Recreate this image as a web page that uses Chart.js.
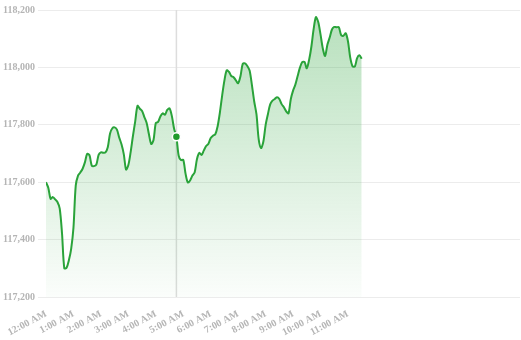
<html>
  <body style="margin:0;background:#fff">
    <canvas id="myChart" width="521" height="340"></canvas>

    <script src="https://cdn.jsdelivr.net/npm/chart.js"></script>
    <script>
      "use strict";

      // minutes after midnight, one reading every 5 minutes
      const minutes = [
          0, 5, 10, 15, 20, 25, 30, 35, 40, 45, 50, 55,
          60, 65, 70, 75, 80, 85, 90, 95, 100, 105, 110, 115,
          120, 125, 130, 135, 140, 145, 150, 155, 160, 165, 170, 175,
          180, 185, 190, 195, 200, 205, 210, 215, 220, 225, 230, 235,
          240, 245, 250, 255, 260, 265, 270, 275, 280, 285, 290, 295,
          300, 305, 310, 315, 320, 325, 330, 335, 340, 345, 350, 355,
          360, 365, 370, 375, 380, 385, 390, 395, 400, 405, 410, 415,
          420, 425, 430, 435, 440, 445, 450, 455, 460, 465, 470, 475,
          480, 485, 490, 495, 500, 505, 510, 515, 520, 525, 530, 535,
          540, 545, 550, 555, 560, 565, 570, 575, 580, 585, 590, 595,
          600, 605, 610, 615, 620, 625, 630, 635, 640, 645, 650, 655,
          660, 665, 670, 675, 680, 685, 690
      ];

      const prices = [
          117600, 117581, 117542, 117548, 117540, 117531, 117508, 117422, 117300, 117302, 117328, 117368,
          117441, 117588, 117623, 117634, 117647, 117669, 117699, 117694, 117658, 117656, 117661, 117695,
          117704, 117703, 117704, 117722, 117770, 117788, 117791, 117783, 117756, 117732, 117698, 117644,
          117660, 117705, 117761, 117812, 117866, 117856, 117848, 117827, 117806, 117767, 117733, 117747,
          117806, 117810, 117829, 117840, 117835, 117852, 117857, 117831, 117786, 117758, 117692, 117677,
          117678, 117630, 117599, 117606, 117623, 117635, 117681, 117702, 117695, 117711, 117726, 117734,
          117754, 117762, 117767, 117794, 117842, 117902, 117955, 117990, 117984, 117970, 117966, 117955,
          117945, 117969, 118012, 118014, 118005, 117989, 117939, 117882, 117837, 117748, 117719, 117741,
          117799, 117837, 117871, 117884, 117890, 117896, 117890, 117872, 117861, 117847, 117840, 117889,
          117919, 117940, 117970, 117999, 118018, 118019, 117997, 118026, 118072, 118134, 118175, 118158,
          118115, 118066, 118040, 118079, 118104, 118132, 118141, 118140, 118140, 118113, 118110, 118119,
          118091, 118034, 118004, 118003, 118032, 118042, 118030
      ];

      const hourLabels = [
          '12:00 AM', '1:00 AM', '2:00 AM', '3:00 AM', '4:00 AM', '5:00 AM',
          '6:00 AM', '7:00 AM', '8:00 AM', '9:00 AM', '10:00 AM', '11:00 AM'
      ];

      const hoverIndex = 57;

      const lineColor = '#2aa33a';
      const labelFont = { family: '"Liberation Serif", "Times New Roman", serif', size: 10, weight: 'bold' };

      function fillGradient(context) {
          const chart = context.chart;
          const area = chart.chartArea;
          if (!area) return 'rgba(42,163,58,0.2)';
          const g = chart.ctx.createLinearGradient(0, area.top, 0, area.bottom);
          g.addColorStop(0, 'rgba(42,163,58,0.34)');
          g.addColorStop(1, 'rgba(42,163,58,0.02)');
          return g;
      }

      // vertical hover line behind the series
      const crosshair = {
          id: 'crosshair',
          beforeDatasetsDraw(chart) {
              const active = chart.getActiveElements();
              if (!active.length) return;
              const x = active[0].element.x;
              const ctx = chart.ctx;
              ctx.save();
              ctx.strokeStyle = '#dddddd';
              ctx.lineWidth = 1.5;
              ctx.beginPath();
              ctx.moveTo(x, chart.chartArea.top);
              ctx.lineTo(x, chart.chartArea.bottom);
              ctx.stroke();
              ctx.restore();
          }
      };

      const ctx = document.getElementById('myChart').getContext('2d');
      const chart = new Chart(ctx, {
          type: 'line',
          data: {
              datasets: [{
                  data: minutes.map((m, i) => ({ x: m, y: prices[i] })),
                  borderColor: lineColor,
                  borderWidth: 2,
                  backgroundColor: fillGradient,
                  fill: 'start',
                  tension: 0.3,
                  pointRadius: 0,
                  pointHoverRadius: 4,
                  pointHoverBackgroundColor: '#1f9a2b',
                  pointHoverBorderColor: '#ffffff',
                  pointHoverBorderWidth: 1.5
              }]
          },
          options: {
              responsive: false,
              animation: false,
              events: [],
              layout: { padding: { top: 10, right: 1 } },
              plugins: {
                  legend: { display: false },
                  tooltip: { enabled: false }
              },
              scales: {
                  x: {
                      type: 'linear',
                      min: 0,
                      max: 1036,
                      afterBuildTicks: scale => {
                          scale.ticks = hourLabels.map((l, i) => ({ value: i * 60 }));
                      },
                      afterFit: scale => { scale.height = 43; },
                      grid: { display: false },
                      border: { display: false },
                      ticks: {
                          autoSkip: false,
                          minRotation: 28,
                          maxRotation: 28,
                          color: '#b5b5b5',
                          font: labelFont,
                          callback: v => hourLabels[Math.round(v / 60)]
                      }
                  },
                  y: {
                      min: 117200,
                      max: 118200,
                      afterFit: scale => { scale.width = 46; },
                      grid: { color: '#ececec', tickLength: 8 },
                      border: { display: false },
                      ticks: {
                          stepSize: 200,
                          color: '#b5b5b5',
                          font: labelFont,
                          callback: v => v.toLocaleString('en-US')
                      }
                  }
              }
          },
          plugins: [crosshair]
      });

      chart.setActiveElements([{ datasetIndex: 0, index: hoverIndex }]);
      chart.update('none');
    </script>
  </body>
</html>
